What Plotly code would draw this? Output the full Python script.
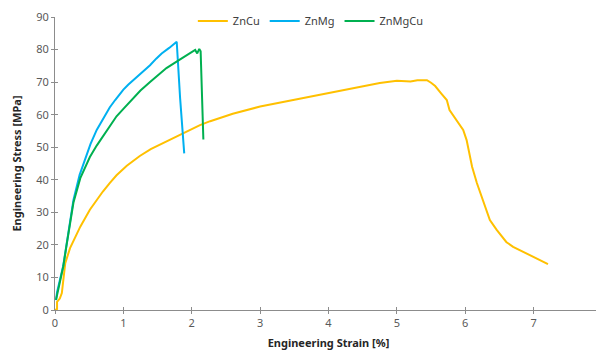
import plotly.graph_objects as go

# ---- data ----
zncu_strain = [0.0, 0.03, 0.03, 0.07, 0.10, 0.13, 0.15, 0.22, 0.30, 0.37, 0.51, 0.61, 0.70, 0.80,
               0.90, 1.05, 1.14, 1.24, 1.40, 1.535, 1.64, 1.80, 2.00, 2.12, 2.27, 2.60, 3.00,
               3.54, 4.12, 4.50, 4.75, 5.00, 5.20, 5.30, 5.44, 5.50, 5.56, 5.65, 5.73, 5.77,
               5.85, 5.97, 6.02, 6.10, 6.17, 6.26, 6.36, 6.46, 6.60, 6.70, 6.85, 7.02, 7.21]
zncu_stress = [0.0, 0.3, 2.5, 3.5, 5.2, 10.0, 14.4, 19.0, 22.5, 25.6, 30.8, 33.8, 36.4, 39.0,
               41.4, 44.3, 45.8, 47.3, 49.4, 50.8, 51.9, 53.6, 55.6, 56.8, 58.0, 60.3, 62.5,
               64.7, 67.0, 68.5, 69.7, 70.4, 70.2, 70.6, 70.6, 69.8, 68.8, 66.5, 64.5, 61.4,
               59.0, 55.3, 52.2, 44.0, 39.0, 33.8, 27.6, 24.6, 20.9, 19.4, 17.8, 16.0, 14.1]

znmg_strain = [0.015, 0.03, 0.12, 0.17, 0.22, 0.27, 0.36, 0.44, 0.52, 0.61, 0.72, 0.80, 0.88,
               0.94, 1.00, 1.07, 1.145, 1.27, 1.39, 1.48, 1.56, 1.67, 1.78, 1.83, 1.89]
znmg_stress = [3.0, 5.5, 13.5, 20.5, 27.0, 33.8, 41.5, 46.0, 51.0, 55.3, 59.5, 62.2, 64.5,
               66.2, 67.7, 69.2, 70.6, 73.0, 75.2, 77.2, 78.8, 80.5, 82.4, 65.0, 48.1]

znmgcu_strain = [0.015, 0.07, 0.12, 0.17, 0.22, 0.27, 0.37, 0.44, 0.51, 0.61, 0.76, 0.90, 1.00,
                 1.12, 1.25, 1.39, 1.51, 1.63, 1.83, 2.02, 2.05, 2.08, 2.11, 2.13, 2.15, 2.17]
znmgcu_stress = [3.1, 8.0, 13.3, 20.0, 26.7, 33.0, 40.5, 44.0, 47.0, 50.5, 55.3, 59.5, 61.8,
                 64.5, 67.4, 70.0, 72.3, 74.3, 77.0, 79.3, 79.9, 78.8, 80.2, 79.5, 66.0, 52.4]

x_ticks = [0, 1, 2, 3, 4, 5, 6, 7, 8]
y_ticks = [0, 10, 20, 30, 40, 50, 60, 70, 80, 90]

FONT = "Noto Sans"
AXIS_COLOR = "#8c8c8c"
TICK_COLOR = "#595959"

fig = go.Figure()
fig.add_trace(go.Scatter(x=zncu_strain, y=zncu_stress, mode="lines", name="ZnCu",
                         line=dict(color="#FFC000", width=2)))
fig.add_trace(go.Scatter(x=znmg_strain, y=znmg_stress, mode="lines", name="ZnMg",
                         line=dict(color="#00B0F0", width=2)))
fig.add_trace(go.Scatter(x=znmgcu_strain, y=znmgcu_stress, mode="lines", name="ZnMgCu",
                         line=dict(color="#00B050", width=2)))

# the page body has an 8px default margin, so the figure is sized to fit the window
fig.update_layout(
    width=596, height=343,
    margin=dict(l=47, r=2, t=9, b=41, autoexpand=False),
    paper_bgcolor="white", plot_bgcolor="white",
    font=dict(family=FONT, size=11, color=TICK_COLOR),
    showlegend=True,
    legend=dict(orientation="h", x=0.252, xanchor="left", y=0.986, yanchor="middle",
                font=dict(family=FONT, size=11, color="#404040"),
                bgcolor="rgba(0,0,0,0)"),
    xaxis=dict(range=[0, 8], tickvals=x_ticks, showgrid=False, zeroline=False,
               showline=True, linecolor=AXIS_COLOR, linewidth=1, automargin=False,
               ticks="outside", ticklen=3, tickcolor=AXIS_COLOR,
               tickfont=dict(family=FONT, size=11, color=TICK_COLOR),
               title=dict(text="<b>Engineering Strain [%]</b>", standoff=10,
                          font=dict(family=FONT, size=11, color="#262626"))),
    yaxis=dict(range=[0, 90], tickvals=y_ticks, showgrid=False, zeroline=False,
               showline=True, linecolor=AXIS_COLOR, linewidth=1, automargin=False,
               ticks="outside", ticklen=3, tickcolor=AXIS_COLOR,
               tickfont=dict(family=FONT, size=11, color=TICK_COLOR),
               title=dict(text="<b>Engineering Stress [MPa]</b>", standoff=12,
                          font=dict(family=FONT, size=11, color="#262626"))),
    xaxis2=dict(range=[0, 8], tickvals=x_ticks, overlaying="x", side="bottom",
                anchor="y", showgrid=False, zeroline=False, showline=False,
                ticks="inside", ticklen=3, tickcolor=AXIS_COLOR, showticklabels=False),
    yaxis2=dict(range=[0, 90], tickvals=y_ticks, overlaying="y", side="left",
                anchor="x", showgrid=False, zeroline=False, showline=False,
                ticks="inside", ticklen=3, tickcolor=AXIS_COLOR, showticklabels=False),
)
# invisible trace to activate the secondary (inside-tick) axes
fig.add_trace(go.Scatter(x=[None], y=[None], xaxis="x2", yaxis="y2",
                         showlegend=False, hoverinfo="skip"))

fig.write_html("out.html")
